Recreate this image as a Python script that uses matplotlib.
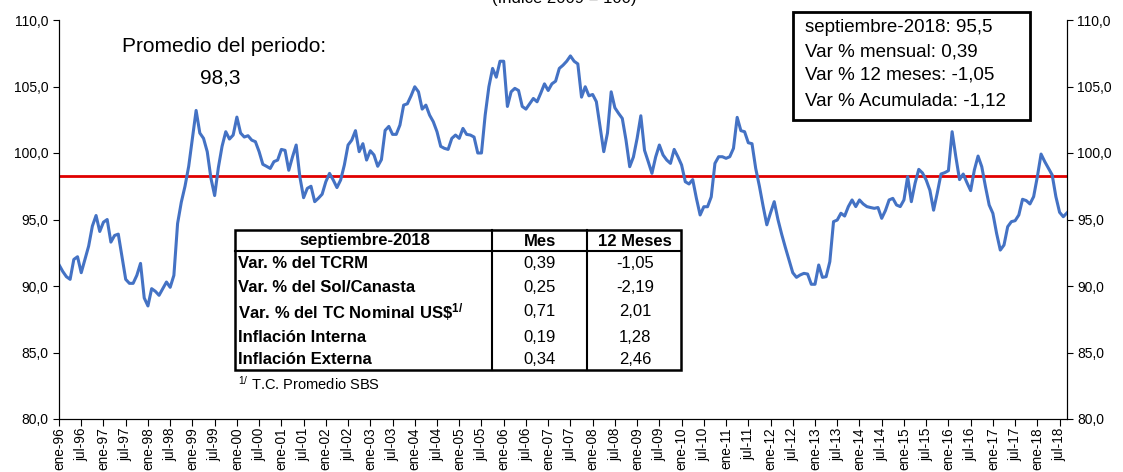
import matplotlib.pyplot as plt
import numpy as np

plt.rcParams['font.family'] = ['Liberation Sans', 'DejaVu Sans']
plt.rcParams['mathtext.default'] = 'regular'

# TCRM index, monthly ene-96 .. sep-18
tcrm = [
    91.6, 91.1, 90.7, 90.5, 92.0, 92.2, 91.0, 92.0, 93.0, 94.5, 95.3, 94.1,
    94.8, 95.0, 93.3, 93.8, 93.9, 92.2, 90.5, 90.2, 90.2, 90.8, 91.7, 89.1,
    88.5, 89.8, 89.6, 89.3, 89.8, 90.3, 89.9, 90.8, 94.7, 96.3, 97.5, 99.0,
    101.1, 103.2, 101.5, 101.1, 100.1, 98.1, 96.8, 98.9, 100.5, 101.6, 101.05, 101.35,
    102.7, 101.5, 101.2, 101.3, 100.97, 100.85, 100.1, 99.15, 99.0, 98.84, 99.35, 99.47,
    100.27, 100.2, 98.7, 99.7, 100.6, 98.2, 96.64, 97.34, 97.5, 96.34, 96.6, 96.9,
    97.84, 98.47, 97.97, 97.4, 97.97, 99.1, 100.6, 100.97, 101.68, 100.1, 100.7, 99.47,
    100.17, 99.85, 99.0, 99.5, 101.7, 102.0, 101.4, 101.4, 102.1, 103.6, 103.7, 104.3,
    104.98, 104.6, 103.3, 103.6, 102.85, 102.35, 101.6, 100.5, 100.35, 100.27, 101.1, 101.35,
    101.1, 101.85, 101.4, 101.35, 101.2, 100.0, 100.0, 102.85, 104.98, 106.36, 105.7, 106.9,
    106.9, 103.5, 104.6, 104.86, 104.7, 103.5, 103.3, 103.7, 104.1, 103.85, 104.5, 105.2,
    104.7, 105.2, 105.4, 106.36, 106.6, 106.9, 107.3, 106.9, 106.7, 104.2, 104.98, 104.3,
    104.4, 103.86, 101.98, 100.1, 101.5, 104.6, 103.4, 102.98, 102.6, 100.97, 98.97, 99.7,
    101.1, 102.8, 100.2, 99.35, 98.47, 99.7, 100.6, 99.85, 99.47, 99.22, 100.27, 99.72,
    99.1, 97.84, 97.67, 98.0, 96.59, 95.34, 95.96, 95.96, 96.7, 99.22, 99.72, 99.72,
    99.6, 99.72, 100.35, 102.68, 101.68, 101.6, 100.77, 100.7, 98.84, 97.5, 96.0, 94.6,
    95.5, 96.34, 95.0, 93.9, 92.9, 91.96, 91.0, 90.65, 90.83, 90.95, 90.9, 90.13,
    90.13, 91.58, 90.65, 90.7, 91.83, 94.84, 94.96, 95.47, 95.26, 95.97, 96.47, 95.97,
    96.47, 96.17, 95.97, 95.9, 95.84, 95.9, 95.09, 95.67, 96.47, 96.59, 96.09, 95.97,
    96.47, 98.22, 96.34, 97.72, 98.77, 98.5, 97.97, 97.2, 95.7, 97.0, 98.42, 98.52,
    98.67, 101.6, 99.72, 98.0, 98.42, 97.77, 97.17, 98.72, 99.77, 98.97, 97.47, 96.09,
    95.46, 93.96, 92.7, 93.08, 94.46, 94.84, 94.91, 95.34, 96.52, 96.42, 96.17, 96.72,
    98.22, 99.92, 99.35, 98.85, 98.35, 96.72, 95.54, 95.21, 95.5,
]
promedio = 98.3

tick_labels = []
for yr in range(96, 96 + 23):
    tick_labels.append('ene-%02d' % (yr % 100))
    tick_labels.append('jul-%02d' % (yr % 100))

table_head = ['septiembre-2018', 'Mes', '12 Meses']
table_rows = ['Var. % del TCRM', 'Var. % del Sol/Canasta',
              r'Var. % del TC Nominal US\$$^{1/}$', 'Inflación Interna', 'Inflación Externa']
table_mes = ['0,39', '0,25', '0,71', '0,19', '0,34']
table_12m = ['-1,05', '-2,19', '2,01', '1,28', '2,46']

info_lines = ['septiembre-2018: 95,5', 'Var % mensual: 0,39',
              'Var % 12 meses: -1,05', 'Var % Acumulada: -1,12']

W, H = 1123, 472
def fx(x):
    return x / W
def fy(y):
    return 1 - y / H

def coma(v):
    return ('%.1f' % v).replace('.', ',')

fig = plt.figure(figsize=(11.23, 4.72), dpi=100)
ax = fig.add_axes([fx(59), fy(419), fx(1067) - fx(59), fy(20) - fy(419)])

x = np.arange(len(tcrm))
ax.plot(x, tcrm, color='#4472C4', lw=2.2, zorder=3)
ax.axhline(promedio, color='#E00000', lw=2, zorder=2)

ax.set_xlim(0, len(tcrm) - 1)
ax.set_ylim(80, 110)
yt = np.arange(80, 111, 5)
ax.set_yticks(yt)
ax.set_yticklabels([coma(v) for v in yt], fontsize=10)
ax.set_xticks(np.arange(len(tick_labels)) * 6)
ax.set_xticklabels(tick_labels, rotation=90, fontsize=9.8)
ax.tick_params(axis='x', length=5, pad=1)
ax.tick_params(axis='y', length=4)
ax.spines['top'].set_visible(False)

ax2 = ax.twinx()
ax2.set_ylim(80, 110)
ax2.set_yticks(yt)
ax2.set_yticklabels([coma(v) for v in yt], fontsize=10)
ax2.tick_params(axis='y', length=4)
ax2.spines['top'].set_visible(False)

# title cut at top
fig.text(fx(564), fy(3), '(Índice 2009 = 100)', ha='center', va='baseline', fontsize=12)

fig.text(fx(224), fy(47), 'Promedio del periodo:', ha='center', va='center', fontsize=15)
fig.text(fx(220), fy(78), coma(promedio), ha='center', va='center', fontsize=15)

# info box
fig.patches.append(plt.Rectangle((fx(793), fy(120)), fx(1030) - fx(793), fy(12) - fy(120),
                                 transform=fig.transFigure, fill=False, lw=2, ec='black'))
for i, s in enumerate(info_lines):
    fig.text(fx(805), fy([27, 52, 75, 101][i]), s, ha='left', va='center', fontsize=13.5)

# table
tl, tr, tt, tb = 235, 681, 230, 370
c1, c2 = 492, 587
fig.patches.append(plt.Rectangle((fx(tl), fy(tb)), fx(tr) - fx(tl), fy(tt) - fy(tb),
                                 transform=fig.transFigure, fill=True, fc='white', lw=1.8, ec='black', zorder=5))
for xc in [c1, c2]:
    fig.add_artist(plt.Line2D([fx(xc), fx(xc)], [fy(tt), fy(tb)], transform=fig.transFigure,
                              color='black', lw=1.5, zorder=6))
fig.add_artist(plt.Line2D([fx(tl), fx(tr)], [fy(251), fy(251)], transform=fig.transFigure,
                          color='black', lw=1.5, zorder=6))
fig.text(fx(365), fy(241), table_head[0], ha='center', va='center', fontsize=12, weight='bold', zorder=7)
fig.text(fx(540), fy(241), table_head[1], ha='center', va='center', fontsize=12, weight='bold', zorder=7)
fig.text(fx(635), fy(241), table_head[2], ha='center', va='center', fontsize=12, weight='bold', zorder=7)
row_y = [264, 287, 312, 338, 360]
for i in range(len(table_rows)):
    fig.text(fx(238), fy(row_y[i]), table_rows[i], ha='left', va='center', fontsize=12, weight='bold', zorder=7)
    fig.text(fx(540), fy(row_y[i]), table_mes[i], ha='center', va='center', fontsize=12, zorder=7)
    fig.text(fx(635), fy(row_y[i]), table_12m[i], ha='center', va='center', fontsize=12, zorder=7)
fig.text(fx(238), fy(384), '$^{1/}$ T.C. Promedio SBS', ha='left', va='center', fontsize=10.5)

fig.savefig('out.png', dpi=100)
